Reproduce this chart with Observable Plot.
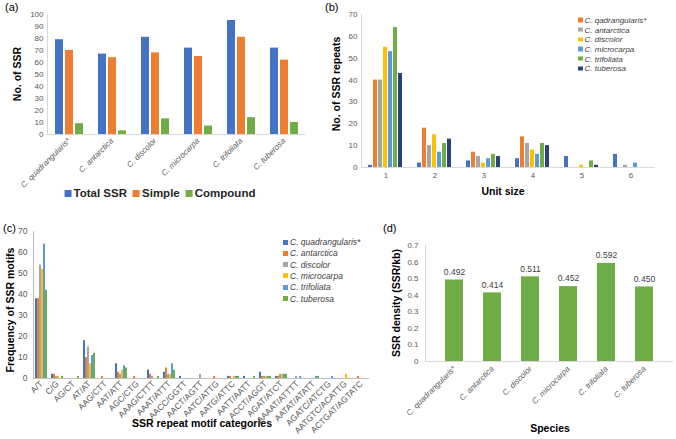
<!DOCTYPE html>
<html><head><meta charset="utf-8">
<script src="https://cdn.jsdelivr.net/npm/d3@7"></script>
<script src="https://cdn.jsdelivr.net/npm/@observablehq/plot@0.6"></script>
<style>
body{margin:0;background:#fff;font-family:"Liberation Sans",Arial,sans-serif;}
#root{position:relative;width:676px;height:439px;overflow:hidden;background:#fff;}
.abs{position:absolute;white-space:nowrap;}
.title{font-weight:bold;font-size:10.5px;color:#000;}
.rot{transform:translate(-50%,-50%) rotate(-90deg);}
.ctr{transform:translate(-50%,-50%);}
.tag{font-size:11px;color:#000;}
.leg{font-style:italic;color:#404040;display:flex;align-items:center;transform:translateY(-50%);}
.sw{display:inline-block;margin-right:2px;}
</style></head><body><div id="root"></div>
<script>
// ---------- DATA ----------
const species = ["C. quadrangularis*","C. antarctica","C. discolor","C. microcarpa","C. trifoliata","C. tuberosa"];

// Panel (a)
const seriesA = ["Total SSR","Simple","Compound"];
const totalSSR = [79,67,81,72,95,72];
const simpleSSR = [70,64,68,65,81,62];
const compoundSSR = [9,3,13,7,14,10];
const colorsA = ["#4472C4","#ED7D31","#70AD47"];
const ticksA = [0,10,20,30,40,50,60,70,80,90,100];

// Panel (b)
const unitSizes = ["1","2","3","4","5","6"];
const seriesB = ["Unit size","C. qadrangularis*","C. antarctica","C. discolor","C. microcarpa","C. trifoliata","C. tuberosa"];
const bUnit = [1,2,3,4,5,6];
const bQuad = [40,18,7,14,0,0];
const bAnt  = [40,10,5,11,0,1];
const bDis  = [55,15,2,8,1,0];
const bMic  = [53,7,4,6,0,2];
const bTri  = [64,11,6,11,3,0];
const bTub  = [43,13,5,10,1,0];
const colorsB = ["#4472C4","#ED7D31","#A5A5A5","#FFC000","#5B9BD5","#70AD47","#264478"];
const ticksB = [0,10,20,30,40,50,60,70];

// Panel (c)
const motifs = ["A/T","C/G","AG/CT","AT/AT","AAG/CTT","AAT/ATT","AGC/CTG","AAAG/CTTT","AAAT/ATTT","AACC/GGTT","AACT/AGTT","AATC/ATTG","AATG/ATTC","AATT/AATT","ACCT/AGGT","AGAT/ATCT","AAAAT/ATTTT","AATAT/ATATT","AGATC/ATCTG","AATGTC/ACATTG","ACTGAT/AGTATC"];
const seriesC = ["C. quadrangularis*","C. antarctica","C. discolor","C. microcarpa","C. trifoliata","C. tuberosa"];
const cQuad = [38,2,0,18,0,7,0,4,3,1,0,0,1,1,3,1,0,0,0,0,0];
const cAnt  = [38,2,0,10,1,3,1,2,5,0,0,1,1,0,1,1,0,0,0,0,1];
const cDis  = [54,1,0,15,0,2,0,1,2,0,2,0,0,0,1,2,1,0,0,0,0];
const cMic  = [52,1,0,7,0,4,0,0,2,0,0,0,1,0,1,2,0,0,0,2,0];
const cTri  = [64,0,0,11,0,6,0,0,7,0,0,0,1,0,1,2,1,1,1,0,0];
const cTub  = [42,1,1,12,0,5,0,1,4,0,0,0,1,1,1,2,0,1,0,0,0];
const colorsC = ["#4472C4","#ED7D31","#A5A5A5","#FFC000","#5B9BD5","#70AD47"];
const ticksC = [0,10,20,30,40,50,60,70];

// Panel (d)
const density = [0.492,0.414,0.511,0.452,0.592,0.450];
const ticksD = [0,0.1,0.2,0.3,0.4,0.5,0.6,0.7];

// ---------- HELPERS ----------
const root = document.getElementById("root");
const FONT = "'Liberation Sans', Arial, sans-serif";
const AXIS = "#D9D9D9";
const TICK = "#595959";
function addPlot(p, left, top){
  const d = document.createElement("div");
  d.style.cssText = `position:absolute;left:${left}px;top:${top}px;`;
  d.appendChild(p); root.appendChild(d);
}
function addText(txt, left, top, cls, style=""){
  const d = document.createElement("div");
  d.className = "abs " + cls; d.style.cssText = `left:${left}px;top:${top}px;${style}`;
  d.textContent = txt; root.appendChild(d); return d;
}
function italicize(p, key){
  p.querySelectorAll(`g[aria-label="${key}-axis tick label"] text`).forEach(t=>t.style.fontStyle="italic");
}
const baseStyle = {fontFamily:FONT, fontSize:"8px", color:TICK, background:"transparent", overflow:"visible"};

// ---------- PANEL (a) ----------
const valsA = [totalSSR, simpleSSR, compoundSSR];
const dataA = species.flatMap((s,i)=>seriesA.map((k,j)=>({species:s, series:k, value:valsA[j][i]})));
const plotA = Plot.plot({
  width:340, height:215, marginLeft:46, marginRight:35, marginTop:14, marginBottom:81,
  style:baseStyle,
  fx:{domain:species, padding:0, label:null, tickRotate:-45, tickSize:0, tickPadding:5},
  x:{domain:seriesA, axis:null, paddingInner:0.25, paddingOuter:0.67},
  y:{domain:[0,100], ticks:ticksA, label:null, tickSize:0, tickPadding:4},
  color:{domain:seriesA, range:colorsA},
  marks:[
    Plot.barY(dataA,{fx:"species", x:"series", y:"value", fill:"series"}),
    Plot.ruleY([0],{stroke:AXIS}),
    Plot.frame({anchor:"left", stroke:AXIS, facetAnchor:"left"})
  ]
});
italicize(plotA,"fx");
addPlot(plotA,0,0);
addText("(a)",5,1,"tag");
addText("No. of SSR",17,74,"title rot");
// legend (a)
(function(){
  const d = document.createElement("div");
  d.className="abs"; d.style.cssText="left:160px;top:193px;transform:translate(-50%,-50%);display:flex;gap:6px;font-weight:bold;font-size:11.5px;color:#262626;";
  seriesA.forEach((k,i)=>{
    const it=document.createElement("span"); it.style.cssText="display:flex;align-items:center;";
    it.innerHTML=`<span style="display:inline-block;width:7px;height:7px;background:${colorsA[i]};margin-right:2px"></span>${k}`;
    d.appendChild(it);
  });
  root.appendChild(d);
})();

// ---------- PANEL (b) ----------
const valsB = [bUnit,bQuad,bAnt,bDis,bMic,bTri,bTub];
const dataB = unitSizes.flatMap((u,i)=>seriesB.map((k,j)=>({unit:u, series:k, value:valsB[j][i]})));
const plotB = Plot.plot({
  width:338, height:215, marginLeft:22, marginRight:20, marginTop:14, marginBottom:48,
  style:baseStyle,
  fx:{domain:unitSizes, padding:0, label:null, tickSize:0, tickPadding:5},
  x:{domain:seriesB, axis:null, paddingInner:0.15, paddingOuter:0.8},
  y:{domain:[0,70], ticks:ticksB, label:null, tickSize:0, tickPadding:4},
  color:{domain:seriesB, range:colorsB},
  marks:[
    Plot.barY(dataB,{fx:"unit", x:"series", y:"value", fill:"series"}),
    Plot.ruleY([0],{stroke:AXIS}),
    Plot.frame({anchor:"left", stroke:AXIS, facetAnchor:"left"})
  ]
});
addPlot(plotB,338,0);
addText("(b)",325,1,"tag");
addText("No. of SSR repeats",336,84,"title rot");
addText("Unit size",503,191,"title ctr");
seriesB.slice(1).forEach((k,i)=>{
  const d = addText("",578,20+i*9.65,"leg","font-size:8px;");
  d.innerHTML=`<span class="sw" style="width:4.5px;height:4.5px;background:${colorsB[i+1]}"></span>${k}`;
});

// ---------- PANEL (c) ----------
const valsC = [cQuad,cAnt,cDis,cMic,cTri,cTub];
const dataC = motifs.flatMap((m,i)=>seriesC.map((k,j)=>({motif:m, series:k, value:valsC[j][i]})));
const plotC = Plot.plot({
  width:380, height:224, marginLeft:33, marginRight:11, marginTop:16, marginBottom:61,
  style:{...baseStyle, fontSize:"8.5px"},
  fx:{domain:motifs, padding:0, label:null, tickRotate:-45, tickSize:0, tickPadding:4},
  x:{domain:seriesC, axis:null, paddingInner:0.2, paddingOuter:1.1},
  y:{domain:[0,70], ticks:ticksC, label:null, tickSize:0, tickPadding:6},
  color:{domain:seriesC, range:colorsC},
  marks:[
    Plot.barY(dataC,{fx:"motif", x:"series", y:"value", fill:"series"}),
    Plot.ruleY([0],{stroke:"#BFBFBF"}),
    Plot.frame({anchor:"left", stroke:"#BFBFBF", facetAnchor:"left"})
  ]
});

// ---------- PANEL (d) ----------
const dataD = species.map((s,i)=>({species:s, density:density[i]}));
const plotD = Plot.plot({
  width:338, height:224, marginLeft:87, marginRight:3, marginTop:30, marginBottom:78,
  style:baseStyle,
  x:{domain:species, padding:0.52, label:null, tickRotate:-45, tickSize:0, tickPadding:6},
  y:{domain:[0,0.7], ticks:ticksD, tickFormat:d=>d===0?"0":d3.format(".1f")(d), label:null, tickSize:0, tickPadding:7},
  marks:[
    Plot.barY(dataD,{x:"species", y:"density", fill:"#70AD47"}),
    Plot.text(dataD,{x:"species", y:"density", text:d=>d.density.toFixed(3), dy:-8, fontSize:8.5, fill:"#404040"}),
    Plot.ruleY([0],{stroke:AXIS}),
    Plot.frame({anchor:"left", stroke:AXIS})
  ]
});
italicize(plotD,"x");
addPlot(plotD,338,215);
addPlot(plotC,0,215);
addText("(c)",3,222,"tag");
addText("Frequency of SSR motifs",10,310,"title rot");
addText("SSR repeat motif categories",202,423,"title ctr");
seriesC.forEach((k,i)=>{
  const d = addText("",283,242+i*11.3,"leg","font-size:8.5px;");
  d.innerHTML=`<span class="sw" style="width:5px;height:5px;background:${colorsC[i]}"></span>${k}`;
});
addText("(d)",383,222,"tag");
addText("SSR density (SSR/kb)",396,303,"title rot");
addText("Species",550,428,"title ctr");
</script></body></html>
